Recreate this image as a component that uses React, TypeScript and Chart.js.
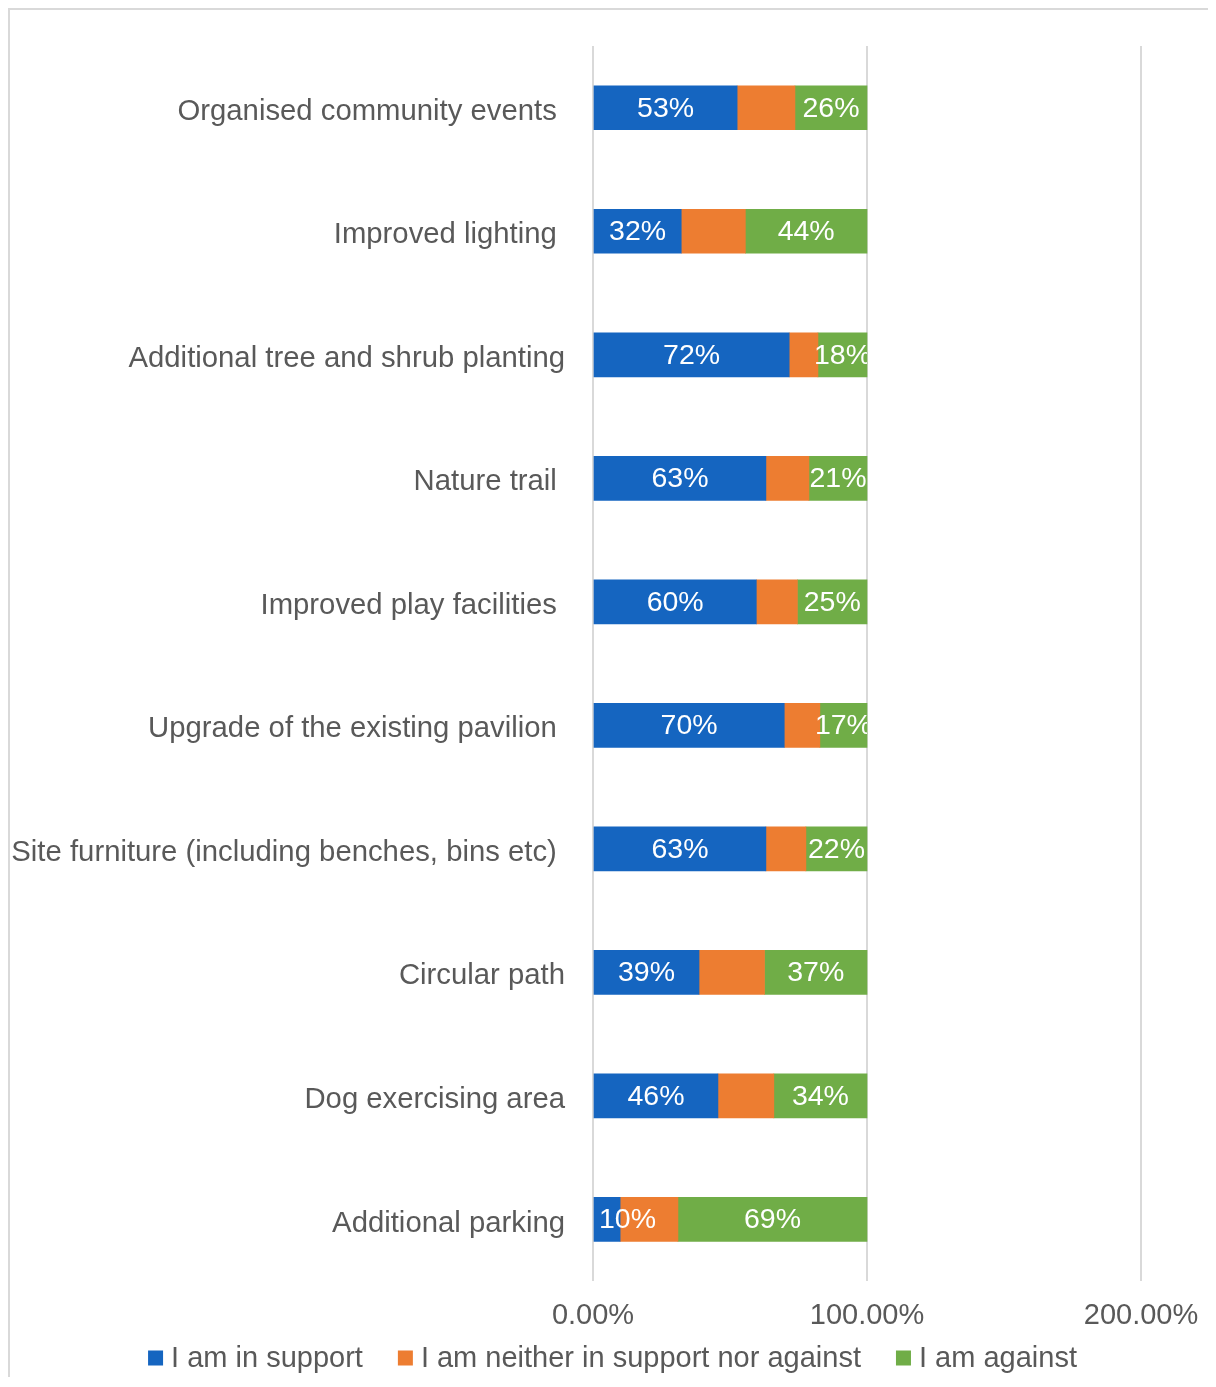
import React, { useEffect, useRef } from "react";
import { Chart, registerables } from "chart.js";

Chart.register(...registerables);

const categories = [
  "Organised community events ",
  "Improved lighting ",
  "Additional tree and shrub planting",
  "Nature trail ",
  "Improved play facilities ",
  "Upgrade of the existing pavilion ",
  "Site furniture (including benches, bins etc) ",
  "Circular path",
  "Dog exercising area",
  "Additional parking",
];

const supportValues = [52.6, 32.2, 71.6, 63.1, 59.6, 69.8, 63.1, 38.7, 45.6, 9.9];
const neutralValues = [21.1, 23.4, 10.5, 15.7, 15.0, 13.0, 14.6, 23.9, 20.4, 21.1];
const againstValues = [26.3, 44.4, 17.9, 21.2, 25.4, 17.2, 22.3, 37.4, 34.0, 69.0];

const seriesNames = [
  "I am in support",
  "I am neither in support nor against",
  "I am against",
];
const seriesColors = ["#1565C0", "#ED7D31", "#70AD47"];
const xTicks = [0, 100, 200];

const FONT = "'Liberation Sans', Arial, sans-serif";
const TEXT = "#595959";

const dataLabelPlugin = {
  id: "dataLabels",
  afterDatasetsDraw(chart: any) {
    const ctx = chart.ctx;
    const area = chart.chartArea;
    const lastMeta = chart.getDatasetMeta(2);
    ctx.save();
    ctx.font = `28.5px ${FONT}`;
    ctx.fillStyle = "#ffffff";
    ctx.textAlign = "left";
    ctx.textBaseline = "middle";
    [0, 2].forEach((di) => {
      const meta = chart.getDatasetMeta(di);
      const ds = chart.data.datasets[di];
      meta.data.forEach((el: any, i: number) => {
        const v = ds.data[i] as number;
        const txt = Math.round(v) + "%";
        const w = ctx.measureText(txt).width;
        const cx = (el.x + el.base) / 2;
        let left = cx - w / 2;
        if (left < area.left + 6) left = area.left + 6;
        const endX = lastMeta.data[i].x;
        ctx.save();
        ctx.beginPath();
        ctx.rect(area.left, el.y - 30, endX - area.left, 60);
        ctx.clip();
        ctx.fillText(txt, left, el.y + 1);
        ctx.restore();
      });
    });
    ctx.restore();
  },
};

const legendPlugin = {
  id: "customLegend",
  afterDraw(chart: any) {
    const ctx = chart.ctx;
    ctx.save();
    ctx.font = `29px ${FONT}`;
    ctx.textBaseline = "middle";
    ctx.textAlign = "left";
    const box = 15;
    const gap = 8;
    const itemGap = 35;
    const widths = seriesNames.map((n) => box + gap + ctx.measureText(n).width);
    const total = widths.reduce((a, b) => a + b, 0) + itemGap * (widths.length - 1);
    let x = (chart.width - total) / 2 + 3;
    const y = 1348;
    seriesNames.forEach((n, i) => {
      ctx.fillStyle = seriesColors[i];
      ctx.fillRect(x, y - box / 2, box, box);
      ctx.fillStyle = TEXT;
      ctx.fillText(n, x + box + gap, y + 1);
      x += widths[i] + itemGap;
    });
    ctx.restore();
  },
};

export default function App() {
  const ref = useRef<HTMLCanvasElement>(null);
  useEffect(() => {
    if (!ref.current) return;
    const chart = new Chart(ref.current, {
      type: "bar",
      data: {
        labels: categories,
        datasets: [supportValues, neutralValues, againstValues].map((d, i) => ({
          label: seriesNames[i],
          data: d,
          backgroundColor: seriesColors[i],
          borderWidth: 0,
          barThickness: 44,
        })),
      },
      options: {
        indexAxis: "y",
        responsive: false,
        animation: false,
        layout: { padding: { top: 36, right: 68, bottom: 27, left: 0 } },
        plugins: {
          legend: { display: false },
          tooltip: { enabled: false },
        },
        scales: {
          x: {
            stacked: true,
            min: 0,
            max: 200,
            afterBuildTicks: (scale: any) => {
              scale.ticks = xTicks.map((v) => ({ value: v }));
            },
            afterFit: (scale: any) => {
              scale.paddingLeft = 0;
              scale.paddingRight = 0;
            },
            grid: { color: "#d9d9d9", lineWidth: 2, drawTicks: false },
            border: { display: false },
            ticks: {
              padding: 17,
              color: TEXT,
              font: { family: FONT, size: 29 },
              maxRotation: 0,
              callback: (v: any) => Number(v).toFixed(2) + "%",
            },
          },
          y: {
            stacked: true,
            grid: { display: false, drawTicks: false },
            border: { display: false },
            afterFit: (scale: any) => {
              scale.width = 583;
              scale.paddingTop = 0;
              scale.paddingBottom = 0;
            },
            ticks: {
              padding: 28,
              labelOffset: 4,
              color: TEXT,
              font: { family: FONT, size: 29.3 },
            },
          },
        },
      },
      plugins: [dataLabelPlugin, legendPlugin],
    } as any);
    return () => chart.destroy();
  }, []);

  return (
    <div
      style={{
        width: 1199,
        height: 1367,
        borderTop: "2px solid #d9d9d9",
        borderLeft: "2px solid #d9d9d9",
        borderRight: "2px solid #d9d9d9",
      }}
    >
      <canvas ref={ref} width={1199} height={1367} style={{ display: "block" }} />
    </div>
  );
}
